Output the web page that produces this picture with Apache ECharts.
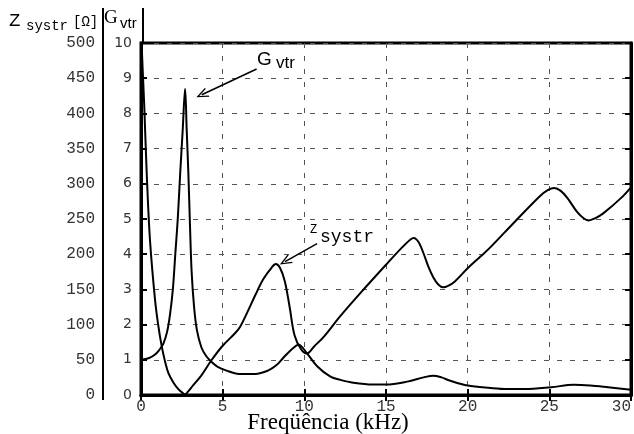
<!DOCTYPE html>
<html>
<head>
<meta charset="utf-8">
<script src="https://cdn.jsdelivr.net/npm/echarts@6/dist/echarts.min.js"></script>
<style>html,body{margin:0;padding:0;background:#fff}#c{width:634px;height:434px}</style>
</head>
<body>
<div id="c"></div>
<script>
// ---- data ----
const xTicks = [0, 5, 10, 15, 20, 25, 30];            // kHz
const zTicks = [0, 50, 100, 150, 200, 250, 300, 350, 400, 450, 500]; // Ω
const gTicks = [0, 1, 2, 3, 4, 5, 6, 7, 8, 9, 10];

// Z_systr (Ω) vs frequency (kHz)
const freqZ = [0, 0.04, 0.2, 0.35, 0.55, 0.86, 1.05, 1.27, 1.48, 1.68, 2.0, 2.3, 2.55, 2.7, 2.85, 3.2, 3.7, 4.3, 5.0, 5.77, 6.07, 6.5, 7.0, 7.5, 8.0, 8.25, 8.5, 8.8, 9.1, 9.4, 9.8, 10.15, 10.6, 11.2, 12.2, 13.4, 15.0, 16.0, 16.5, 16.7, 17.0, 17.3, 17.6, 17.9, 18.2, 18.5, 18.8, 19.2, 20.0, 20.8, 21.4, 22.8, 24.4, 24.9, 25.3, 25.7, 26.1, 26.7, 27.1, 27.4, 27.8, 28.3, 29.4, 30.0];
const zSystr = [560, 500, 410, 315, 220, 135, 100, 69, 47, 31, 17, 8, 3, 1, 4, 14, 28, 49, 70, 88, 97, 117, 142, 165, 181, 186, 181, 162, 125, 85, 65, 59, 69, 83, 112, 144, 185, 210, 221, 223, 217, 201, 182, 167, 157, 153, 155, 161, 180, 197, 210, 244, 282, 291, 294, 290, 280, 260, 251, 248, 251, 258, 280, 295];

// G_vtr vs frequency (kHz)
const freqG = [0, 0.5, 0.86, 1.1, 1.37, 1.6, 1.78, 1.95, 2.1, 2.25, 2.4, 2.55, 2.7, 2.8, 2.9, 3.0, 3.1, 3.25, 3.42, 3.7, 4.0, 4.3, 4.7, 5.2, 6.0, 7.0, 7.8, 8.3, 8.7, 9.3, 9.65, 10.15, 10.8, 11.6, 12.2, 13.0, 14.2, 15.0, 16.3, 17.3, 17.9, 18.4, 18.9, 20.0, 21.4, 22.4, 23.5, 25.1, 26.5, 27.5, 28.6, 30.0];
const gVtr = [1.0, 1.05, 1.15, 1.27, 1.46, 1.8, 2.3, 3.0, 4.0, 5.0, 6.3, 7.5, 8.7, 7.5, 6.3, 4.8, 3.5, 2.5, 1.85, 1.35, 1.1, 0.95, 0.8, 0.7, 0.6, 0.6, 0.7, 0.85, 1.05, 1.33, 1.43, 1.19, 0.81, 0.52, 0.43, 0.35, 0.3, 0.3, 0.38, 0.5, 0.55, 0.5, 0.41, 0.27, 0.2, 0.17, 0.17, 0.22, 0.29, 0.27, 0.22, 0.15];

// annotation arrows (data coords: [kHz, G]) from label to curve
const arrowG = [[7.08, 9.26], [3.72, 8.53]];
const arrowZ = [[10.78, 4.30], [8.82, 3.79]];

const chart = echarts.init(document.getElementById('c'), null, {renderer: 'canvas'});
const mono = 'Liberation Mono';
const lblColor = '#333';
const dashStyle = {color: '#555', width: 1, type: [5, 8]};
const openArrow = 'path://M0,20 L5,0 L10,20 L8.6,20 L5,5.5 L1.4,20 Z';

function mkArrow(a) {
  return {
    type: 'line', xAxisIndex: 0, yAxisIndex: 1, data: [], silent: true,
    markLine: {
      silent: true, symbol: ['none', openArrow], symbolSize: [10, 12],
      lineStyle: {color: '#000', width: 1.5, type: 'solid'},
      label: {show: false},
      data: [[{coord: a[0]}, {coord: a[1]}]]
    }
  };
}

chart.setOption({
  animation: false,
  backgroundColor: '#fff',
  grid: {left: 141, right: 3, top: 43, bottom: 39, show: true, borderColor: '#000', borderWidth: 3,
    containLabel: false, outerBoundsMode: 'none'},
  xAxis: [{
    type: 'value', position: 'bottom', min: 0, max: 30, interval: 5,
    axisLine: {show: true, lineStyle: {color: '#000', width: 3}},
    axisTick: {show: true, inside: true, length: 6, lineStyle: {color: '#000', width: 2}},
    axisLabel: {show: true, margin: 4, fontFamily: mono, fontSize: 16, color: lblColor, alignMaxLabel: 'right',
      formatter: v => xTicks.indexOf(v) >= 0 ? String(v) : ''},
    splitLine: {show: true, lineStyle: dashStyle},
    name: 'Freqüência (kHz)', nameLocation: 'middle', nameGap: 16, nameMoveOverlap: false,
    nameTextStyle: {fontFamily: 'Liberation Serif', fontSize: 23, color: '#000', padding: [0, 116, 0, 0], verticalAlign: 'top'}
  }, {
    type: 'value', position: 'top', min: 0, max: 30, interval: 5,
    axisLine: {show: true, lineStyle: {color: '#000', width: 3}},
    axisTick: {show: true, inside: true, length: 6, lineStyle: {color: '#000', width: 2}},
    axisLabel: {show: false}, splitLine: {show: false}
  }],
  yAxis: [{
    type: 'value', position: 'left', offset: 38, min: 0, max: 500, interval: 50,
    axisLine: {show: false}, axisTick: {show: false},
    axisLabel: {show: true, margin: 8, fontFamily: mono, fontSize: 16, color: lblColor,
      formatter: v => zTicks.indexOf(v) >= 0 ? String(v) : ''},
    splitLine: {show: false}
  }, {
    type: 'value', position: 'left', offset: 0, min: 0, max: 10, interval: 1,
    axisLine: {show: true, lineStyle: {color: '#000', width: 3}},
    axisTick: {show: true, inside: true, length: 6, lineStyle: {color: '#000', width: 2}},
    axisLabel: {show: true, margin: 9, fontFamily: 'DejaVu Sans', fontSize: 14, color: lblColor,
      formatter: v => gTicks.indexOf(v) >= 0 ? String(v) : ''},
    splitLine: {show: true, lineStyle: dashStyle}
  }, {
    type: 'value', position: 'right', offset: 0, min: 0, max: 10, interval: 1,
    axisLine: {show: true, lineStyle: {color: '#000', width: 3}},
    axisTick: {show: true, inside: true, length: 6, lineStyle: {color: '#000', width: 2}},
    axisLabel: {show: false}, splitLine: {show: false}
  }],
  series: [{
    name: 'Zsystr', type: 'line', xAxisIndex: 0, yAxisIndex: 0,
    data: freqZ.map((f, i) => [f, zSystr[i]]),
    showSymbol: false, smooth: 0.35, clip: true,
    lineStyle: {color: '#000', width: 2}
  }, {
    name: 'Gvtr', type: 'line', xAxisIndex: 0, yAxisIndex: 1,
    data: freqG.map((f, i) => [f, gVtr[i]]),
    showSymbol: false, smooth: 0.35, clip: true,
    lineStyle: {color: '#000', width: 2}
  }, mkArrow(arrowG), mkArrow(arrowZ)],
  graphic: [
    // axis separator lines
    {type: 'line', shape: {x1: 103, y1: 8, x2: 103, y2: 400}, style: {stroke: '#000', lineWidth: 2}},
    {type: 'line', shape: {x1: 143, y1: 8, x2: 143, y2: 43}, style: {stroke: '#000', lineWidth: 2}},
    // axis titles
    {type: 'text', left: 9, top: 11, style: {text: 'Z', font: '19px "Liberation Mono"', fill: '#000'}},
    {type: 'text', left: 26, top: 19, style: {text: 'systr', font: '14px "Liberation Mono"', fill: '#000'}},
    {type: 'text', left: 73, top: 15, style: {text: '[Ω]', font: '14px "Liberation Mono"', fill: '#000'}},
    {type: 'text', left: 104, top: 9, style: {text: 'G', font: '19px "Liberation Serif"', fill: '#000'}},
    {type: 'text', left: 120, top: 16, style: {text: 'vtr', font: '15px "Liberation Sans"', fill: '#000'}},
    // annotations
    {type: 'text', left: 257, top: 50, style: {text: 'G', font: '19px "Liberation Sans"', fill: '#000'}},
    {type: 'text', left: 276, top: 55, style: {text: 'vtr', font: '17px "Liberation Sans"', fill: '#000'}},
    {type: 'text', left: 310, top: 224, style: {text: 'Z', font: '12px "Liberation Mono"', fill: '#000'}},
    {type: 'text', left: 320, top: 228, style: {text: 'systr', font: '18px "Liberation Mono"', fill: '#000'}}
  ]
});
</script>
</body>
</html>
